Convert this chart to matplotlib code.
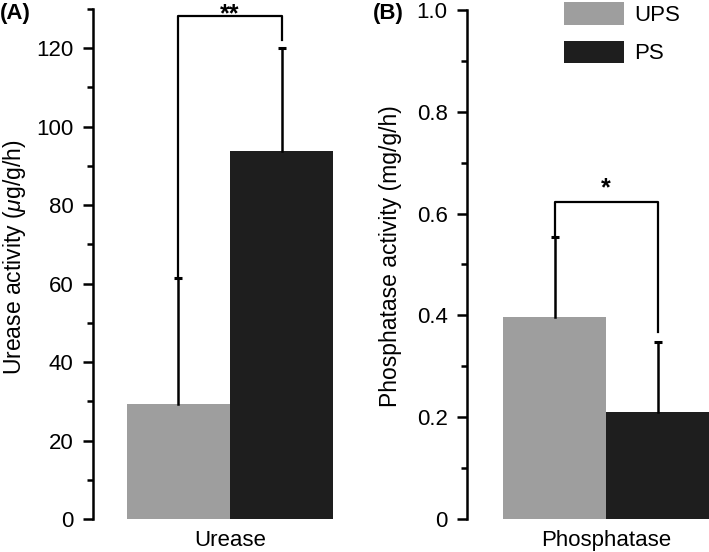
import matplotlib.pyplot as plt
from matplotlib.ticker import MultipleLocator
from matplotlib.patches import Patch

plt.rcParams['font.family'] = ['Liberation Sans', 'DejaVu Sans']
plt.rcParams['mathtext.fontset'] = 'custom'
plt.rcParams['mathtext.it'] = 'Liberation Sans:italic'
plt.rcParams['mathtext.rm'] = 'Liberation Sans'

groups = ['UPS', 'PS']
colors = ['#9e9e9e', '#1e1e1e']

# panel A - urease
urease_mean = [29.3, 93.8]
urease_err = [32.1, 26.3]
urease_bracket = [128.2, 61.4, 122.0]   # top, left leg end, right leg end
urease_ticks = [0, 20, 40, 60, 80, 100, 120]
# panel B - phosphatase
phos_mean = [0.397, 0.210]
phos_err = [0.157, 0.138]
phos_bracket = [0.623, 0.554, 0.367]
phos_ticks = [0, 0.2, 0.4, 0.6, 0.8, 1.0]
phos_ticklabels = ['0', '0.2', '0.4', '0.6', '0.8', '1.0']

fig = plt.figure(figsize=(7.09, 5.52), dpi=100)
W, H = 709, 552
FS = 16

def style_axis(ax, ymax, minor):
    ax.set_ylim(0, ymax)
    ax.yaxis.set_minor_locator(MultipleLocator(minor))
    for s in ['top', 'right', 'bottom']:
        ax.spines[s].set_visible(False)
    ax.spines['left'].set_linewidth(1.8)
    ax.tick_params(axis='y', which='major', length=7, width=1.8, labelsize=FS, pad=7)
    ax.tick_params(axis='y', which='minor', length=4, width=1.8)
    ax.tick_params(axis='x', length=0, labelsize=FS, pad=8)

def draw(ax, means, errs, br, star, star_pad):
    xs = [-0.5, 0.5]
    for x, m, e, c in zip(xs, means, errs, colors):
        ax.bar(x, m, width=1.0, color=c, zorder=2)
        ax.plot([x, x], [m, m + e], color='black', lw=1.8, zorder=3)
        ax.plot([x], [m + e], marker='_', ms=6, mew=2.2, color='black', zorder=3)
    top, l_end, r_end = br
    ax.plot([xs[0], xs[0], xs[1], xs[1]], [l_end, top, top, r_end],
            color='black', lw=1.6, zorder=3, clip_on=False)
    ax.text(0, top + star_pad, star, ha='center', va='bottom', fontsize=18,
            fontweight='bold', clip_on=False)

# panel A
axA = fig.add_axes([93 / W, 33 / H, 274 / W, 510 / H])
draw(axA, urease_mean, urease_err, urease_bracket, '**', -2.5)
style_axis(axA, 130, 10)
axA.set_yticks(urease_ticks)
axA.set_yticklabels([str(t) for t in urease_ticks])
axA.set_xlim(-1.33, 1.33)
axA.set_xticks([0])
axA.set_xticklabels(['Urease'])
axA.set_ylabel(r'Urease activity ($\mathit{\mu}$g/g/h)', fontsize=16.5)
axA.yaxis.set_label_coords(-65 / 274, (519 - 257) / 510)
fig.text(0 / W, 1 - 3 / H, '(A)', fontsize=16, fontweight='bold', ha='left', va='top')

# panel B
axB = fig.add_axes([467 / W, 33 / H, 242 / W, 509 / H])
draw(axB, phos_mean, phos_err, phos_bracket, '*', 0.003)
style_axis(axB, 1.0, 0.1)
axB.set_yticks(phos_ticks)
axB.set_yticklabels(phos_ticklabels)
axB.set_xlim(-1.35, 1.0)
axB.set_xticks([0])
axB.set_xticklabels(['Phosphatase'])
axB.set_ylabel('Phosphatase activity (mg/g/h)', fontsize=16.5)
axB.yaxis.set_label_coords(-65 / 242, (519 - 256) / 509)
fig.text(373 / W, 1 - 3 / H, '(B)', fontsize=16, fontweight='bold', ha='left', va='top')

handles = [Patch(facecolor=c, edgecolor='none') for c in colors]
fig.legend(handles, groups, loc='upper left', bbox_to_anchor=(562 / W, 1 - 0 / H),
           frameon=False, fontsize=FS, handlelength=2.7, handleheight=1.2,
           handletextpad=0.45, labelspacing=0.65, borderaxespad=0, borderpad=0.1)

fig.savefig('out.png', dpi=100)
